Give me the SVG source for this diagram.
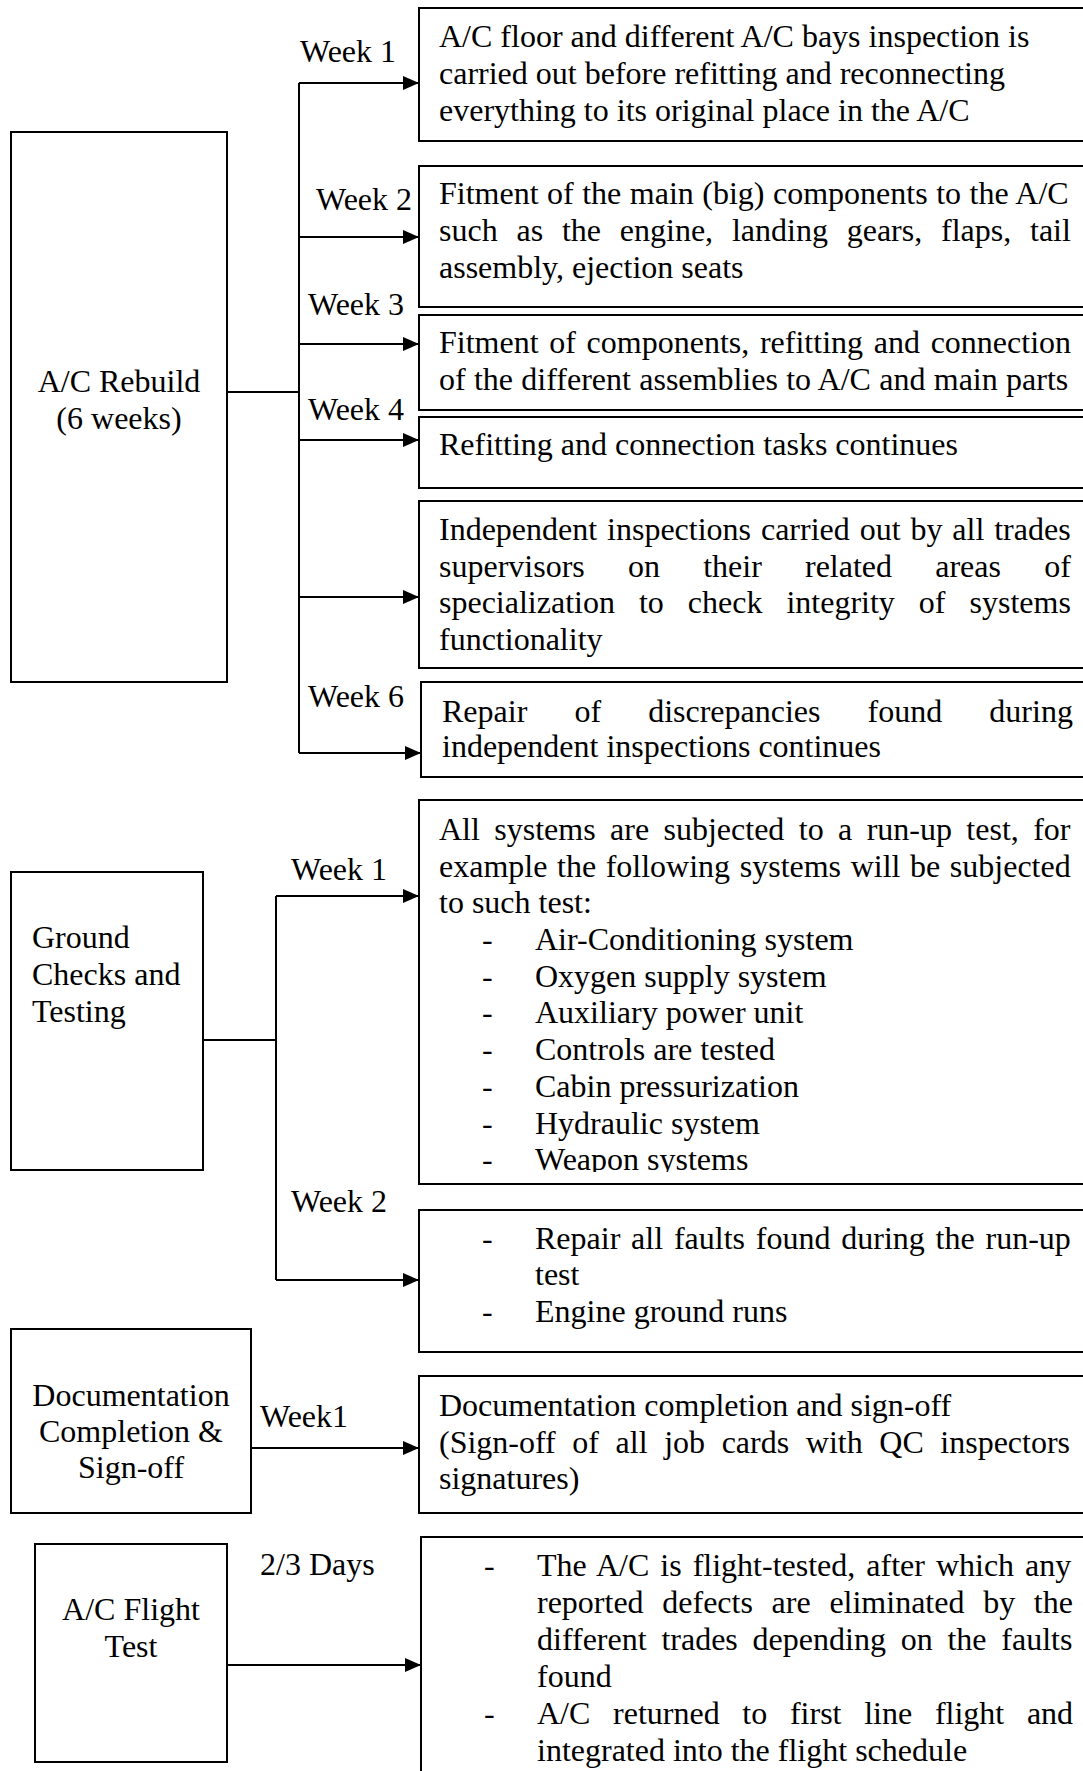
<svg xmlns="http://www.w3.org/2000/svg" width="1083" height="1771" viewBox="0 0 1083 1771">
  <defs>
    <marker id="arrow" viewBox="0 0 16 14" refX="16" refY="7" markerWidth="16" markerHeight="14" markerUnits="userSpaceOnUse" orient="auto">
      <path d="M0,0 L16,7 L0,14 Z" fill="#000"/>
    </marker>
    <clipPath id="clip-runup">
      <rect x="419" y="800" width="700" height="372"/>
    </clipPath>
  </defs>
  <style>
    .box { fill: #fff; stroke: #000; stroke-width: 2; }
    .conn { fill: none; stroke: #000; stroke-width: 2; }
    .arr { fill: none; stroke: #000; stroke-width: 2; marker-end: url(#arrow); }
    text { font-family: "Liberation Serif", "Times New Roman", serif; font-size: 32px; fill: #000; }
    .mid { text-anchor: middle; }
  </style>
  <rect width="1083" height="1771" fill="#fff"/>

  <!-- connectors -->
  <g id="connectors">
    <!-- A/C Rebuild branches -->
    <path class="conn" d="M227,392 H299 M299,83 V753"/>
    <path class="arr" d="M299,83 H419"/>
    <path class="arr" d="M299,237 H419"/>
    <path class="arr" d="M299,344 H419"/>
    <path class="arr" d="M299,440 H419"/>
    <path class="arr" d="M299,597 H419"/>
    <path class="arr" d="M299,753 H421"/>
    <!-- Ground checks branches -->
    <path class="conn" d="M203,1040 H276 M276,896 V1280"/>
    <path class="arr" d="M276,896 H419"/>
    <path class="arr" d="M276,1280 H419"/>
    <!-- Documentation -->
    <path class="arr" d="M251,1448 H419"/>
    <!-- Flight test -->
    <path class="arr" d="M227,1665 H421"/>
  </g>

  <!-- connector labels -->
  <g id="labels">
    <text x="300" y="62">Week 1</text>
    <text x="316" y="210">Week 2</text>
    <text x="308" y="315">Week 3</text>
    <text x="308" y="420">Week 4</text>
    <text x="308" y="707">Week 6</text>
    <text x="291" y="880">Week 1</text>
    <text x="291" y="1212">Week 2</text>
    <text x="260" y="1427">Week1</text>
    <text x="260" y="1575">2/3 Days</text>
  </g>

  <!-- phase nodes -->
  <g id="phase-rebuild">
    <rect class="box" x="11" y="132" width="216" height="550"/>
    <text class="mid" x="119" y="392">A/C Rebuild</text>
    <text class="mid" x="119" y="429">(6 weeks)</text>
  </g>
  <g id="phase-ground">
    <rect class="box" x="11" y="872" width="192" height="298"/>
    <text x="32" y="948">Ground</text>
    <text x="32" y="985">Checks and</text>
    <text x="32" y="1022">Testing</text>
  </g>
  <g id="phase-docs">
    <rect class="box" x="11" y="1329" width="240" height="184"/>
    <text class="mid" x="131" y="1406">Documentation</text>
    <text class="mid" x="131" y="1442">Completion &amp;</text>
    <text class="mid" x="131" y="1478">Sign-off</text>
  </g>
  <g id="phase-flight">
    <rect class="box" x="35" y="1544" width="192" height="218"/>
    <text class="mid" x="131" y="1620">A/C Flight</text>
    <text class="mid" x="131" y="1657">Test</text>
  </g>

  <!-- task nodes -->
  <g id="task-week1">
    <rect class="box" x="419" y="8" width="700" height="133"/>
    <text x="439" y="47">A/C floor and different A/C bays inspection is</text>
    <text x="439" y="84">carried out before refitting and reconnecting</text>
    <text x="439" y="121">everything to its original place in the A/C</text>
  </g>
  <g id="task-week2">
    <rect class="box" x="419" y="166" width="700" height="141"/>
    <text x="439" y="204" style="word-spacing:0.5px">Fitment of the main (big) components to the A/C</text>
    <text x="439" y="241" style="word-spacing:10.8px">such as the engine, landing gears, flaps, tail</text>
    <text x="439" y="278">assembly, ejection seats</text>
  </g>
  <g id="task-week3">
    <rect class="box" x="419" y="315" width="700" height="95"/>
    <text x="439" y="353" style="word-spacing:2.7px">Fitment of components, refitting and connection</text>
    <text x="439" y="390" style="word-spacing:0.3px">of the different assemblies to A/C and main parts</text>
  </g>
  <g id="task-week4">
    <rect class="box" x="419" y="417" width="700" height="71"/>
    <text x="439" y="455">Refitting and connection tasks continues</text>
  </g>
  <g id="task-week5">
    <rect class="box" x="419" y="501" width="700" height="167"/>
    <text x="439" y="540" style="word-spacing:1.9px">Independent inspections carried out by all trades</text>
    <text x="439" y="577" style="word-spacing:35.2px">supervisors on their related areas of</text>
    <text x="439" y="613" style="word-spacing:16px">specialization to check integrity of systems</text>
    <text x="439" y="650">functionality</text>
  </g>
  <g id="task-week6">
    <rect class="box" x="421" y="682" width="700" height="95"/>
    <text x="442" y="722" style="word-spacing:39.1px">Repair of discrepancies found during</text>
    <text x="442" y="757">independent inspections continues</text>
  </g>
  <g id="task-runup">
    <rect class="box" x="419" y="800" width="700" height="384"/>
    <g clip-path="url(#clip-runup)">
      <text x="439" y="840" style="word-spacing:6.4px">All systems are subjected to a run-up test, for</text>
      <text x="439" y="877" style="word-spacing:1.6px">example the following systems will be subjected</text>
      <text x="439" y="913">to such test:</text>
      <text x="482" y="950">-</text><text x="535" y="950">Air-Conditioning system</text>
      <text x="482" y="987">-</text><text x="535" y="987">Oxygen supply system</text>
      <text x="482" y="1023">-</text><text x="535" y="1023">Auxiliary power unit</text>
      <text x="482" y="1060">-</text><text x="535" y="1060">Controls are tested</text>
      <text x="482" y="1097">-</text><text x="535" y="1097">Cabin pressurization</text>
      <text x="482" y="1134">-</text><text x="535" y="1134">Hydraulic system</text>
      <text x="482" y="1170">-</text><text x="535" y="1170">Weapon systems</text>
    </g>
  </g>
  <g id="task-repair">
    <rect class="box" x="419" y="1210" width="700" height="142"/>
    <text x="482" y="1249">-</text>
    <text x="535" y="1249" style="word-spacing:2.8px">Repair all faults found during the run-up</text>
    <text x="535" y="1285">test</text>
    <text x="482" y="1322">-</text>
    <text x="535" y="1322">Engine ground runs</text>
  </g>
  <g id="task-signoff">
    <rect class="box" x="419" y="1376" width="700" height="137"/>
    <text x="439" y="1416">Documentation completion and sign-off</text>
    <text x="439" y="1453" style="word-spacing:8.6px">(Sign-off of all job cards with QC inspectors</text>
    <text x="439" y="1489">signatures)</text>
  </g>
  <g id="task-flight">
    <rect class="box" x="421" y="1537" width="700" height="260"/>
    <text x="484" y="1576">-</text>
    <text x="537" y="1576" style="word-spacing:3px">The A/C is flight-tested, after which any</text>
    <text x="537" y="1613" style="word-spacing:10.7px">reported defects are eliminated by the</text>
    <text x="537" y="1650" style="word-spacing:6.8px">different trades depending on the faults</text>
    <text x="537" y="1687">found</text>
    <text x="484" y="1724">-</text>
    <text x="537" y="1724" style="word-spacing:14.7px">A/C returned to first line flight and</text>
    <text x="537" y="1761">integrated into the flight schedule</text>
  </g>
</svg>
